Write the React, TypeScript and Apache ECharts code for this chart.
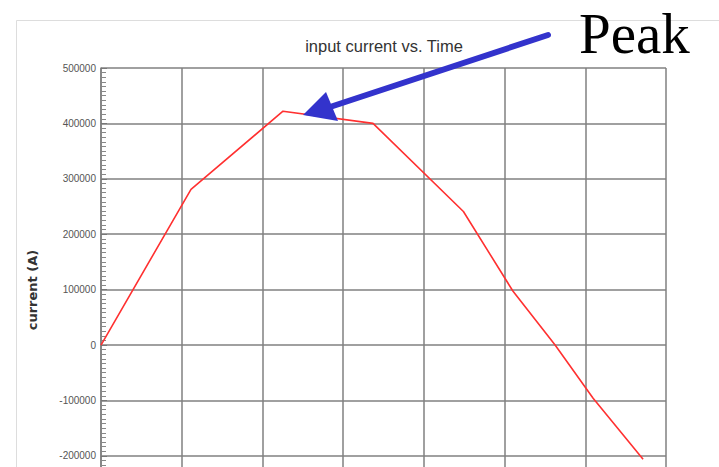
import React, { useEffect, useRef } from "react";
import * as echarts from "echarts";

const timeValues = [0, 1.115, 2.255, 3.37, 4.49, 5.105, 5.626, 6.097, 6.716];
const currentValues = [0, 281000, 422000, 400000, 241000, 97000, 0, -96000, -206000];
const titleText = "input current vs. Time";
const yAxisName = "current (A)";
const annotationText = "Peak";

export default function App() {
  const ref = useRef<HTMLDivElement>(null);
  useEffect(() => {
    if (!ref.current) return;
    const chart = echarts.init(ref.current, undefined, { renderer: "svg" });
    const data = timeValues.map((t, i) => [t, currentValues[i]]);
    const gridColor = "#808080";
    chart.setOption({
      animation: false,
      backgroundColor: "#ffffff",
      title: {
        text: titleText,
        left: 379,
        top: 32,
        textAlign: "center",
        textStyle: {
          fontFamily: "Liberation Sans Narrow, Liberation Sans, Arial, sans-serif",
          fontSize: 16.5,
          fontWeight: "normal",
          color: "#333333",
        },
      },
      grid: { left: 101, right: 53, top: 68, bottom: 0, containLabel: false },
      xAxis: {
        type: "value",
        min: 0,
        max: 7,
        interval: 1,
        axisLine: { show: false },
        axisTick: { show: false },
        axisLabel: { show: false },
        splitLine: { show: true, lineStyle: { color: gridColor, width: 1.5 } },
      },
      yAxis: {
        type: "value",
        min: -240000,
        max: 500000,
        splitNumber: 7,
        axisLine: { show: true, lineStyle: { color: gridColor, width: 1.5 } },
        axisTick: { show: true, inside: true, length: 6, lineStyle: { color: "#777777" } },
        minorTick: { show: true, splitNumber: 12, length: 5, lineStyle: { color: "#888888" } },
        axisLabel: {
          margin: 5,
          fontFamily: "Liberation Sans, Arial, sans-serif",
          fontSize: 10,
          color: "#555555",
          formatter: (v: number) => (v % 100000 === 0 ? String(v) : ""),
        },
        splitLine: { show: true, lineStyle: { color: gridColor, width: 1.5 } },
      },
      series: [
        {
          type: "line",
          data,
          showSymbol: false,
          symbol: "none",
          lineStyle: { color: "#ff3030", width: 1.6 },
          z: 3,
        },
      ],
      graphic: [
        {
          type: "rect",
          z: -1,
          shape: { x: 16.5, y: 20.5, width: 760, height: 500 },
          style: { fill: "none", stroke: "#dddddd", lineWidth: 1 },
        },
        {
          type: "text",
          z: 5,
          x: 32,
          y: 290,
          rotation: Math.PI / 2,
          style: {
            text: yAxisName,
            fontFamily: "DejaVu Sans, sans-serif",
            fontWeight: "bold",
            fontSize: 13,
            fill: "#333333",
            align: "center",
            verticalAlign: "middle",
          },
        },
        {
          type: "line",
          z: 10,
          shape: { x1: 548, y1: 35, x2: 330, y2: 107 },
          style: { stroke: "#3333cc", lineWidth: 6, lineCap: "round" },
        },
        {
          type: "polygon",
          z: 10,
          shape: { points: [[303, 115], [326, 92], [338, 121]] },
          style: { fill: "#3333cc" },
        },
        {
          type: "text",
          z: 10,
          x: 579,
          y: 5,
          style: {
            text: annotationText,
            fontFamily: "Liberation Serif, Times New Roman, serif",
            fontSize: 57,
            fill: "#000000",
          },
        },
      ],
    });
    return () => chart.dispose();
  }, []);
  return (
    <div
      ref={ref}
      style={{ position: "fixed", left: 0, top: 0, width: 719, height: 478 }}
    />
  );
}
